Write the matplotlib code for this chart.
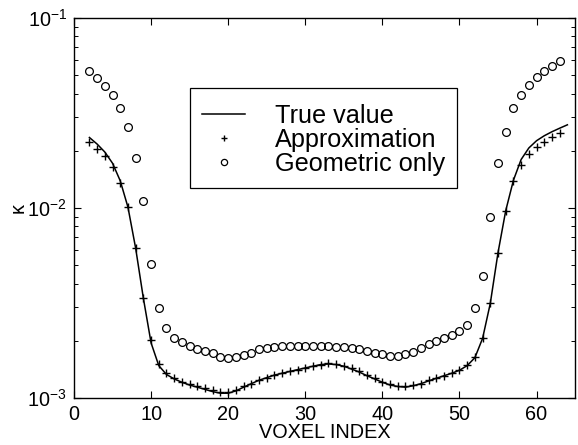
import matplotlib
matplotlib.use("Agg")
import matplotlib.pyplot as plt
from matplotlib.patches import Rectangle
from matplotlib.ticker import LogLocator, NullFormatter
import numpy as np

# voxel positions
voxel_marks = np.arange(2, 64)
voxel_line = np.arange(2, 65)

# "Geometric only" (circles)
geometric = [0.0526, 0.0485, 0.0441, 0.0394, 0.0337, 0.0266, 0.0183, 0.0109,
             0.00509, 0.00297, 0.00234, 0.00206, 0.00197, 0.00188, 0.00182,
             0.00177, 0.00172, 0.00165, 0.00162, 0.00165, 0.00168, 0.00173,
             0.00181, 0.00184, 0.00186, 0.00187, 0.00187, 0.00187, 0.00187,
             0.00187, 0.00187, 0.00187, 0.00186, 0.00186, 0.00184, 0.00182,
             0.00177, 0.00172, 0.00170, 0.00167, 0.00167, 0.00170, 0.00175,
             0.00183, 0.00192, 0.00200, 0.00206, 0.00215, 0.00226, 0.00242,
             0.00297, 0.00441, 0.0090, 0.0172, 0.0252, 0.0335, 0.0394,
             0.0444, 0.0488, 0.0528, 0.0559, 0.0594]

# "Approximation" (crosses)
approximation = [0.0222, 0.0205, 0.0188, 0.0165, 0.0136, 0.0101, 0.00614,
                 0.00335, 0.00201, 0.00151, 0.00136, 0.00128, 0.00122,
                 0.00119, 0.00116, 0.00113, 0.00110, 0.00107, 0.00107,
                 0.00110, 0.00115, 0.00119, 0.00124, 0.00128, 0.00132,
                 0.00135, 0.00138, 0.00140, 0.00144, 0.00147, 0.00150,
                 0.00152, 0.00151, 0.00148, 0.00143, 0.00138, 0.00132,
                 0.00127, 0.00122, 0.00118, 0.00116, 0.00115, 0.00117,
                 0.00119, 0.00124, 0.00128, 0.00131, 0.00135, 0.00140,
                 0.00149, 0.00165, 0.00206, 0.00315, 0.00582, 0.00968,
                 0.0138, 0.0168, 0.0192, 0.0210, 0.0223, 0.0235, 0.0249]

# "True value" (solid line)
true_value = [0.0235, 0.0217, 0.0197, 0.0172, 0.0139, 0.0101, 0.00614,
              0.00335, 0.00195, 0.00148, 0.00133, 0.00126, 0.00121, 0.00117,
              0.00114, 0.00111, 0.00108, 0.00106, 0.00106, 0.00109, 0.00114,
              0.00119, 0.00124, 0.00128, 0.00132, 0.00135, 0.00138, 0.00141,
              0.00144, 0.00147, 0.00150, 0.00151, 0.00150, 0.00147, 0.00142,
              0.00137, 0.00131, 0.00126, 0.00121, 0.00117, 0.00115, 0.00114,
              0.00116, 0.00119, 0.00123, 0.00127, 0.00131, 0.00135, 0.00140,
              0.00148, 0.00163, 0.00206, 0.00315, 0.00582, 0.00968, 0.0140,
              0.0180, 0.0207, 0.0226, 0.0240, 0.0252, 0.0263, 0.0274]

x_ticks = [0, 10, 20, 30, 40, 50, 60]

plt.rcParams['font.family'] = ['Liberation Sans', 'DejaVu Sans']
plt.rcParams['font.size'] = 14.3

fig = plt.figure(figsize=(5.78, 4.45), dpi=100)
ax = fig.add_axes([0.128, 0.1056, 0.867, 0.854])

ax.plot(voxel_line, true_value, color='black', lw=1.1, label='True value')
ax.plot(voxel_marks, approximation, ls='none', marker='+', ms=6, mew=1.0,
        color='black', label='Approximation')
ax.plot(voxel_marks, geometric, ls='none', marker='o', ms=5.6, mew=0.9,
        mfc='none', mec='black', label='Geometric only')

ax.set_yscale('log')
ax.set_ylim(1e-3, 1e-1)
ax.set_xlim(0, 65)
ax.set_xticks(x_ticks)
ax.yaxis.set_minor_locator(LogLocator(base=10, subs=np.arange(2, 10)))
ax.yaxis.set_minor_formatter(NullFormatter())

ax.tick_params(which='both', direction='in', top=True, right=True,
               labelsize=14.3, pad=5)
ax.tick_params(which='major', length=5, width=0.8)
ax.tick_params(which='minor', length=3, width=0.7)
for s in ax.spines.values():
    s.set_linewidth(1.0)

ax.set_xlabel('VOXEL INDEX', fontsize=14.3, labelpad=-1)
ax.set_ylabel('κ', fontsize=14.3, labelpad=0)

# legend box drawn separately so its padding can match the original
box = Rectangle((0.2315, 0.553), 0.5325, 0.263, transform=ax.transAxes,
                facecolor='white', edgecolor='black', lw=0.9, zorder=4)
ax.add_patch(box)
leg = ax.legend(loc='upper left', bbox_to_anchor=(0.2555, 0.774),
                fontsize=18.2, frameon=False, handlelength=1.7,
                handletextpad=1.2, labelspacing=0.0, borderpad=0,
                borderaxespad=0, markerscale=0.8)
leg.set_zorder(5)

fig.savefig('out.png', dpi=100)
